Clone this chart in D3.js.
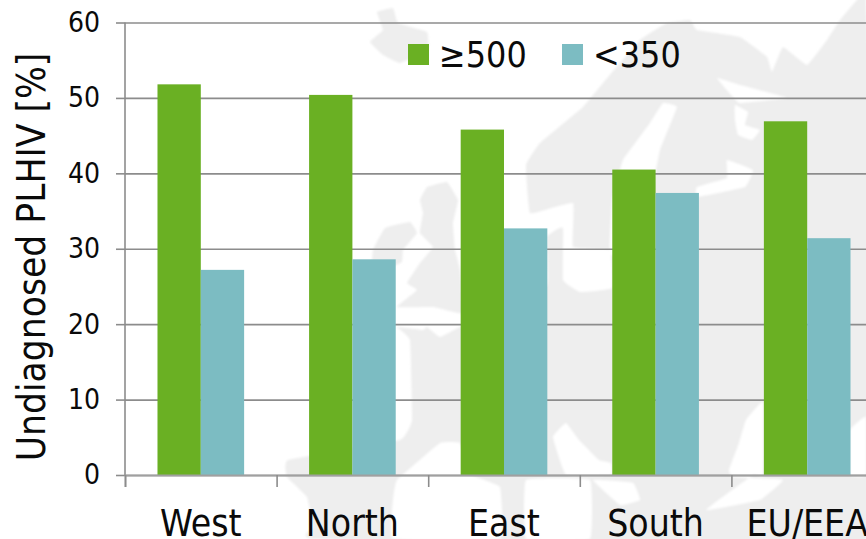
<!DOCTYPE html>
<html>
<head>
<meta charset="utf-8">
<script src="https://cdn.jsdelivr.net/npm/d3@7"></script>
<style>
html,body{margin:0;padding:0;background:#fff;overflow:hidden}
svg{display:block}
text{font-family:"DejaVu Sans",sans-serif;font-stretch:condensed;fill:#0a0a0a}
</style>
</head>
<body>
<svg id="chart" width="866" height="539"></svg>
<script>
const categories = ["West", "North", "East", "South", "EU/EEA"];
const seriesNames = ["≥500", "<350"];
const valuesHigh = [51.8, 50.4, 45.8, 40.5, 46.9];
const valuesLow = [27.2, 28.6, 32.7, 37.4, 31.4];
const yTicks = [0, 10, 20, 30, 40, 50, 60];
const colors = ["#6ab023", "#7cbcc2"];
const yLabel = "Undiagnosed PLHIV [%]";

// Faint backdrop map of Europe (decoration, in page pixels)
const landShapes = [
  [[377,12],[393,8],[398,23],[427,32],[428,50],[400,63],[383,55],[370,42],[383,30]],
  [[427,187],[447,182],[458,200],[453,223],[455,250],[460,270],[462,313],[433,307],[397,307],[417,290],[407,283],[420,263],[433,247],[420,233],[423,213],[420,200]],
  [[373,250],[385,228],[410,222],[417,233],[403,250],[402,262],[385,270],[372,268]],
  [[530,213],[526,165],[540,143],[583,107],[603,83],[640,40],[667,23],[690,20],[697,30],[740,37],[767,57],[772,72],[783,47],[807,65],[827,40],[840,20],[857,0],[866,0],[866,539],[317,539],[313,527],[307,497],[287,477],[288,460],[400,440],[412,420],[410,340],[397,327],[423,330],[427,327],[440,337],[460,327],[500,312],[547,285],[547,237],[563,225],[563,207]]
];
const seaShapes = [
  [[677,107],[663,103],[650,123],[623,160],[612,200],[610,255],[640,250],[650,200],[660,150]],
  [[530,215],[573,203],[573,247],[610,250],[612,288],[580,292],[563,280],[563,228],[547,232]],
  [[717,78],[740,85],[787,98],[740,103],[732,96]],
  [[727,160],[753,170],[745,187],[697,197],[697,187],[727,178]],
  [[735,105],[748,112],[745,125],[760,130],[752,140],[738,135],[735,120]],
  [[566,423],[579,440],[599,460],[611,463],[611,475],[566,475],[553,437]],
  [[763,402],[746,420],[739,443],[729,470],[733,477],[783,480],[760,500],[706,510],[753,475],[763,475]],
  [[866,417],[850,430],[850,475],[866,475]],
  [[397,480],[440,443],[460,443],[472,475],[500,487],[500,539],[393,539],[393,500]],
  [[526,480],[590,480],[590,539],[526,539]],
  [[593,480],[633,483],[640,500],[620,505]]
];

const svg = d3.select("#chart");
svg.append("defs").append("filter").attr("id", "soft")
  .append("feGaussianBlur").attr("stdDeviation", 1);
const line = d3.line().curve(d3.curveCardinalClosed.tension(0.75));
const mapLayer = svg.append("g").attr("filter", "url(#soft)");
mapLayer.append("g").selectAll("path").data(landShapes).join("path")
  .attr("d", line).attr("fill", "#eeeeee");
mapLayer.append("g").selectAll("path").data(seaShapes).join("path")
  .attr("d", line).attr("fill", "#ffffff");

const axisLeft = 125, plotRight = 883, plotTop = 22.5, plotBottom = 475;
const x = d3.scaleBand().domain(categories).range([axisLeft, plotRight])
  .paddingInner(0.4285).paddingOuter(0.2143);
const xEdges = d3.scaleLinear().domain([0, categories.length]).range([axisLeft, plotRight]);
const y = d3.scaleLinear().domain([0, 60]).range([plotBottom, plotTop]);
const barWidth = x.bandwidth() / 2;
const gridColor = "#8c8c8c";

// grid + y axis
const gy = svg.append("g").attr("transform", `translate(${axisLeft},0)`)
  .call(d3.axisLeft(y).tickValues(yTicks).tickSize(9).tickPadding(16));
gy.select(".domain").remove();
gy.selectAll(".tick line").attr("stroke", gridColor).attr("stroke-width", 1.6);
gy.selectAll(".tick").append("line").attr("class", "grid")
  .attr("x1", 0).attr("x2", plotRight - axisLeft)
  .attr("stroke", gridColor).attr("stroke-width", 1.6);
gy.selectAll("text").attr("fill", "#0a0a0a")
  .style("font-size", "28px").style("font-family", null);
svg.append("line").attr("x1", axisLeft).attr("x2", axisLeft)
  .attr("y1", plotTop).attr("y2", plotBottom)
  .attr("stroke", gridColor).attr("stroke-width", 1.6);

// bars
const series = [valuesHigh, valuesLow];
series.forEach((vals, s) => {
  svg.append("g").selectAll("rect").data(vals).join("rect")
    .attr("x", (d, i) => x(categories[i]) + s * barWidth)
    .attr("y", d => y(d))
    .attr("width", barWidth)
    .attr("height", d => plotBottom - y(d))
    .attr("fill", colors[s]);
});

// x axis
const gxEdges = svg.append("g").attr("transform", `translate(0,${plotBottom})`)
  .call(d3.axisBottom(xEdges).ticks(categories.length).tickSize(12).tickFormat(""));
gxEdges.select(".domain").attr("stroke", "#a0a0a0").attr("stroke-width", 1.8);
gxEdges.selectAll(".tick line").attr("stroke", gridColor).attr("stroke-width", 1.6);
const gx = svg.append("g").attr("transform", `translate(0,${plotBottom})`)
  .call(d3.axisBottom(x).tickSize(0).tickPadding(35));
gx.select(".domain").remove();
gx.selectAll("text").attr("fill", "#0a0a0a")
  .style("font-size", "37px").style("font-family", null);

// y title
svg.append("text")
  .attr("transform", "translate(45,257) rotate(-90)")
  .attr("text-anchor", "middle")
  .style("font-size", "38.5px")
  .text(yLabel);

// legend
const legendX = [408, 562];
const lg = svg.append("g").selectAll("g").data(seriesNames).join("g")
  .attr("transform", (d, i) => `translate(${legendX[i]},44)`);
lg.append("rect").attr("width", 21).attr("height", 21).attr("fill", (d, i) => colors[i]);
lg.append("text").attr("x", 31).attr("y", 23).style("font-size", "35.5px").text(d => d);
</script>
</body>
</html>
